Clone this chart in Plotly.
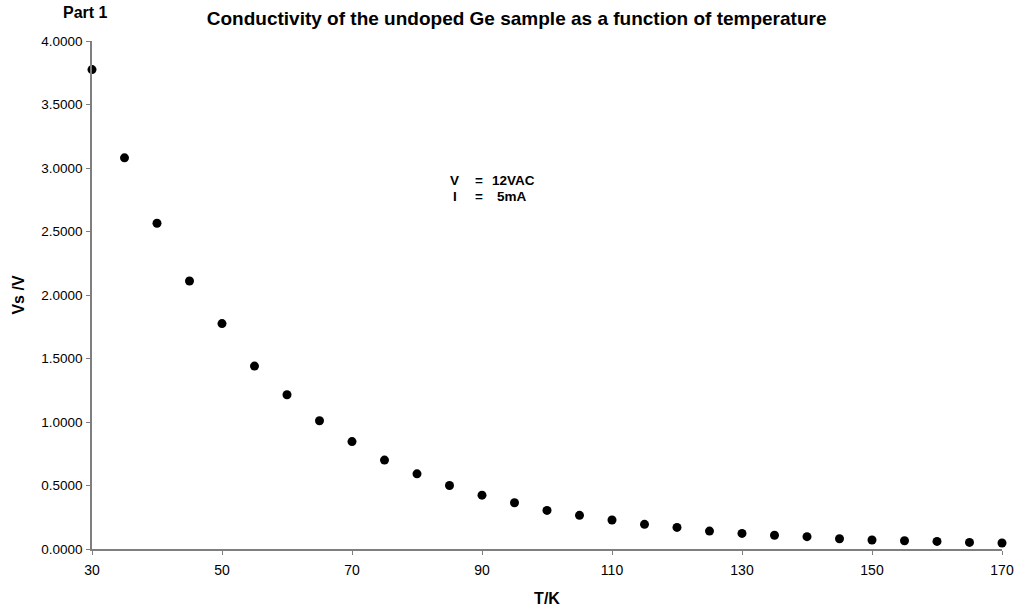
import plotly.graph_objects as go

temperature_K = [30, 35, 40, 45, 50, 55, 60, 65, 70, 75, 80, 85, 90, 95, 100,
                 105, 110, 115, 120, 125, 130, 135, 140, 145, 150, 155, 160, 165, 170]
vs_volts = [3.775, 3.08, 2.565, 2.11, 1.775, 1.44, 1.215, 1.01, 0.846, 0.70, 0.592,
            0.500, 0.424, 0.364, 0.304, 0.265, 0.228, 0.194, 0.170, 0.141, 0.123,
            0.108, 0.097, 0.081, 0.071, 0.065, 0.060, 0.052, 0.047]
x_ticks = [30, 50, 70, 90, 110, 130, 150, 170]
y_ticks = [0, 0.5, 1.0, 1.5, 2.0, 2.5, 3.0, 3.5, 4.0]

FONT = "Liberation Sans, Arial, sans-serif"

fig = go.Figure()
fig.add_trace(go.Scatter(
    x=temperature_K, y=vs_volts, mode="markers",
    marker=dict(color="black", size=9, symbol="circle"),
    showlegend=False, cliponaxis=False,
))

fig.update_layout(
    width=1017, height=607,
    margin=dict(l=92, r=15, t=41, b=58, autoexpand=False),
    paper_bgcolor="white", plot_bgcolor="white",
    font=dict(family=FONT, color="black", size=13),
    title=dict(
        text="<b>Conductivity of the undoped Ge sample as a function of temperature</b>",
        x=0.508, xanchor="center", y=0.970, yanchor="middle",
        font=dict(size=19, family=FONT, color="black"),
    ),
    xaxis=dict(
        range=[30, 170], tickvals=x_ticks, ticks="outside", ticklen=4,
        tickcolor="#7f7f7f", showline=True, linecolor="#7f7f7f", linewidth=1.5,
        showgrid=False, zeroline=False, automargin=False,
        tickfont=dict(size=14, family=FONT, color="black"), ticklabelstandoff=3,
        title=dict(text="<b>T/K</b>", font=dict(size=16, family=FONT), standoff=16),
    ),
    yaxis=dict(
        range=[0, 4], tickvals=y_ticks, tickformat=".4f", ticks="outside", ticklen=4,
        tickcolor="#7f7f7f", showline=True, linecolor="#7f7f7f", linewidth=1.5,
        showgrid=False, zeroline=False, automargin=False,
        tickfont=dict(size=13.5, family=FONT, color="black"), ticklabelstandoff=1,
        title=dict(text="<b>Vs /V</b>", font=dict(size=16, family=FONT), standoff=13),
    ),
)

ann_font = dict(size=13.5, family=FONT, color="black")
fig.add_annotation(text="<b>Part 1</b>", xref="paper", yref="paper", x=-0.034, y=1.056,
                   xanchor="left", yanchor="middle", showarrow=False,
                   font=dict(size=16, family=FONT, color="black"))
rows = [("V", "12VAC", 180.5, 448, 490), ("I", "5mA", 197, 451, 495)]
for label, value, ypix, xl, xv in rows:
    yv = (549.3 - ypix) / 127.1
    fig.add_annotation(text=f"<b>{label}</b>", x=30 + (xl - 92) / 6.5, y=yv,
                       xanchor="left", yanchor="middle", showarrow=False, font=ann_font)
    fig.add_annotation(text="<b>=</b>", x=30 + (473 - 92) / 6.5, y=yv,
                       xanchor="left", yanchor="middle", showarrow=False, font=ann_font)
    fig.add_annotation(text=f"<b>{value}</b>", x=30 + (xv - 92) / 6.5, y=yv,
                       xanchor="left", yanchor="middle", showarrow=False, font=ann_font)

fig.write_html("out.html")
